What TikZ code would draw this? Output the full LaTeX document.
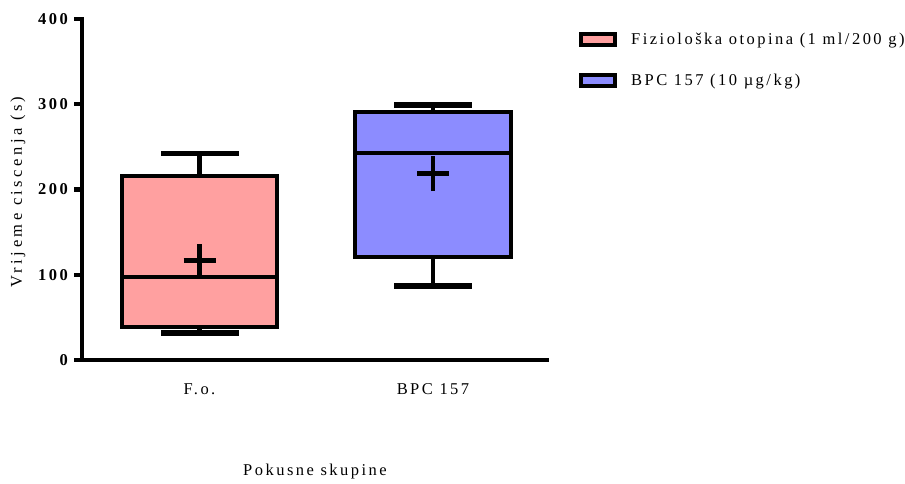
\documentclass[tikz,border=0pt]{standalone}
\usepackage{fontspec}
\setmainfont{Liberation Serif}[LetterSpace=15]
\newfontfamily\widefont{Liberation Serif}[LetterSpace=21]
\usepackage{xcolor}
\usetikzlibrary{positioning,calc}
\definecolor{fopink}{RGB}{255,160,160}
\definecolor{bpcblue}{RGB}{140,140,255}

\begin{document}
\begin{tikzpicture}
[x=1pt, y=-1pt, line cap=butt, line join=miter,
axisline/.style={line width=4.2pt},
boxline/.style={line width=4.6pt},
capline/.style={line width=5.5pt},
lab/.style={font=\fontsize{16.5}{18}\selectfont, inner sep=0pt},
ticklab/.style={font=\fontsize{16.5}{18}\selectfont\bfseries, inner sep=0pt, anchor=east}]
\useasboundingbox (0,0) rectangle (905,483);

% axes
\coordinate (ytop) at (82,17);
\coordinate (o) at (82,360);
\coordinate (xend) at (549,360);
\draw[axisline] (ytop) -- (o) -- (xend);

\begin{scope}[shift={(0,360)}, y=0.8525pt]
% ticks
\node (t0) at (68,0) [ticklab] {0};
\node (t1) at (68,100) [ticklab] {100};
\node (t2) at (68,200) [ticklab] {200};
\node (t3) at (68,300) [ticklab] {300};
\node (t4) at (68,400) [ticklab] {400};
\draw[axisline] (74,0) -- (84,0);
\draw[axisline] (74,100) -- (84,100);
\draw[axisline] (74,200) -- (84,200);
\draw[axisline] (74,300) -- (84,300);
\draw[axisline] (74,400) -- (84,400);

% F.o.
\draw[boxline] (199.5,216) -- (199.5,242);
\draw[boxline] (199.5,38.7) -- (199.5,31.7);
\draw[capline] (161,242) -- (239,242);
\draw[capline] (161,31.7) -- (239,31.7);
\filldraw[boxline, fill=fopink] (122,38.7) rectangle (277,216);
\draw[boxline] (122,97.4) -- (277,97.4);
\draw[boxline] (183.5,117) -- (215.5,117);
\draw[boxline] (199.5,97.6) -- (199.5,136.4);

% BPC 157
\draw[boxline] (433,291) -- (433,299);
\draw[boxline] (433,121) -- (433,86.7);
\draw[capline] (394,299) -- (472,299);
\draw[capline] (394,86.7) -- (472,86.7);
\filldraw[boxline, fill=bpcblue] (355,121) rectangle (511,291);
\draw[boxline] (355,243) -- (511,243);
\draw[boxline] (417,218.5) -- (449,218.5);
\draw[boxline] (433,198) -- (433,239);
\end{scope}

% labels
\node (fo) at (199.5,389) [lab] {F.o.};
\node (bpc) at (433,389) [lab] {BPC 157};
\node (xtit) at (315,472) [lab] {Pokusne skupine};
\node (ytit) at (18,192) [lab, font=\fontsize{16.5}{18}\widefont, rotate=90] {Vrijeme ciscenja (s)};

% legend
\filldraw[line width=4pt, fill=fopink] (581,34) rectangle (615,45);
\filldraw[line width=4pt, fill=bpcblue] (581,75) rectangle (615,86);
\node (leg1) at (631,41) [lab, anchor=west] {Fiziološka otopina (1 ml/200 g)};
\node (leg2) at (631,82) [lab, anchor=west] {BPC 157 (10 µg/kg)};
\end{tikzpicture}
\end{document}
